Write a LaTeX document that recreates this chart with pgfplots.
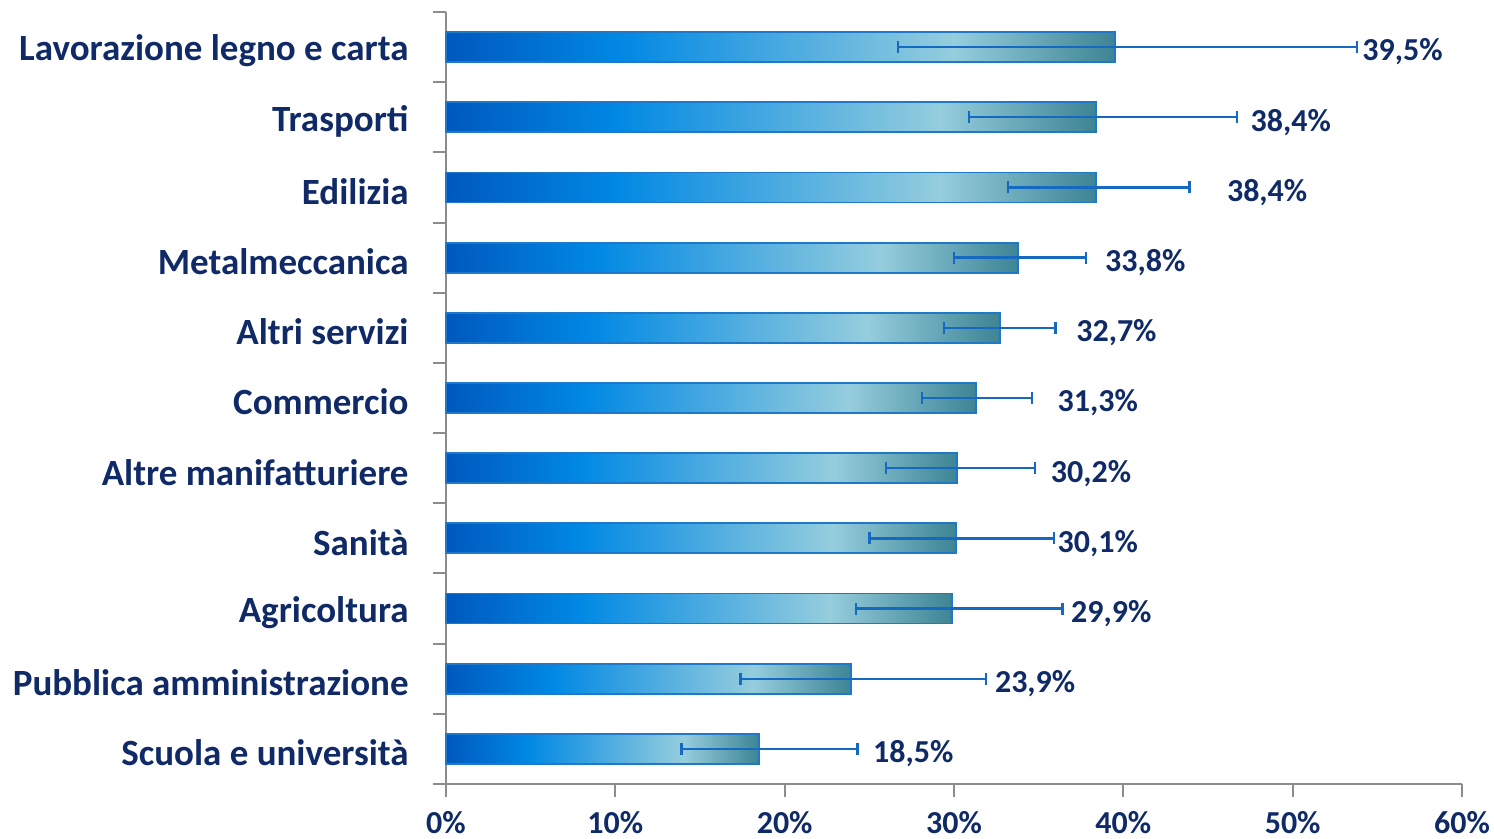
\documentclass[border=0pt]{standalone}
\usepackage{fontspec}
\setmainfont{Carlito}
\usepackage{pgfplots}
\usepackage{pgfplotstable}
\pgfplotsset{compat=1.18}
\definecolor{navy}{HTML}{0F2A66}
\definecolor{axisgrey}{HTML}{8C8C8C}
\definecolor{barborder}{HTML}{1F78C8}
\definecolor{errcol}{HTML}{1569C0}
\definecolor{cA}{HTML}{0058BE}
\definecolor{cB}{HTML}{0088E4}
\definecolor{cC}{HTML}{95CDDD}
\definecolor{cD}{HTML}{3D8494}
\pgfdeclarehorizontalshading{barshade}{100bp}{color(0bp)=(cA); color(25bp)=(cA); color(38bp)=(cB); color(63bp)=(cC); color(75bp)=(cD); color(100bp)=(cD)}

\pgfplotstableread{
y v em ep lx lab
10 39.5 12.8 14.3 54.1 39,5
9 38.4 7.5 8.3 47.5 38,4
8 38.4 5.2 5.5 46.1 38,4
7 33.8 3.8 4.0 38.9 33,8
6 32.7 3.3 3.3 37.2 32,7
5 31.3 3.2 3.3 36.1 31,3
4 30.2 4.2 4.6 35.7 30,2
3 30.1 5.1 5.8 36.1 30,1
2 29.9 5.7 6.5 36.9 29,9
1 23.9 6.5 8.0 32.4 23,9
0 18.5 4.6 5.8 25.2 18,5
}\data

\pgfplotsset{barst/.style={xbar, bar width=15pt, draw=barborder, line width=0.9pt, shading=barshade, forget plot}}

\begin{document}
\begin{tikzpicture}
\begin{axis}[
  width=508pt, height=386pt, scale only axis,
  xmin=0, xmax=60, ymin=-0.5, ymax=10.5,
  axis x line*=bottom, axis y line*=left,
  axis line style={draw=axisgrey, line width=1pt},
  tick style={draw=axisgrey, line width=1pt},
  tick align=outside,
  major tick length=6.5pt,
  xtick={0,10,...,60},
  xticklabels={0\%,10\%,20\%,30\%,40\%,50\%,60\%},
  xticklabel style={font=\fontsize{16}{18}\selectfont\bfseries, text=navy, inner sep=0pt, anchor=north, yshift=-7pt},
  ytick={-0.5,0.5,...,10.5},
  yticklabels={,,,,,,,,,,,,},
  extra y ticks={0,1,2,3,4,5,6,7,8,9,10},
  extra y tick labels={Scuola e università, Pubblica amministrazione, Agricoltura, Sanità, Altre manifatturiere, Commercio, Altri servizi, Metalmeccanica, Edilizia, Trasporti, Lavorazione legno e carta},
  extra y tick style={major tick length=0pt, yticklabel style={font=\fontsize{18.5}{20}\selectfont\bfseries, text=navy, inner sep=0pt, anchor=east, xshift=-18.5pt, yshift=-2pt}},
  clip=false,
]
\addplot[barst] coordinates {(39.5,10)};
\addplot[barst] coordinates {(38.4,9)};
\addplot[barst] coordinates {(38.4,8)};
\addplot[barst] coordinates {(33.8,7)};
\addplot[barst] coordinates {(32.7,6)};
\addplot[barst] coordinates {(31.3,5)};
\addplot[barst] coordinates {(30.2,4)};
\addplot[barst] coordinates {(30.1,3)};
\addplot[barst] coordinates {(29.9,2)};
\addplot[barst] coordinates {(23.9,1)};
\addplot[barst] coordinates {(18.5,0)};
\addplot[draw=none, mark=none, errcol,
  error bars/.cd, x dir=both, x explicit, error mark=|,
  error bar style={line width=1.2pt, errcol},
  error mark options={line width=1.2pt, mark size=3pt, errcol}]
  table[x=v, y=y, x error plus=ep, x error minus=em]{\data};
\addplot[draw=none, mark=none, nodes near coords={\pgfplotspointmeta\%}, point meta=explicit symbolic,
  nodes near coords style={anchor=west, inner sep=0pt, font=\fontsize{16}{18}\selectfont\bfseries, text=navy, yshift=-2.5pt}]
  table[x=lx,y=y,meta=lab]{\data};
\end{axis}
\pgfresetboundingbox
\path (-223pt,-27.5pt) rectangle (524pt,392pt);
\end{tikzpicture}
\end{document}
